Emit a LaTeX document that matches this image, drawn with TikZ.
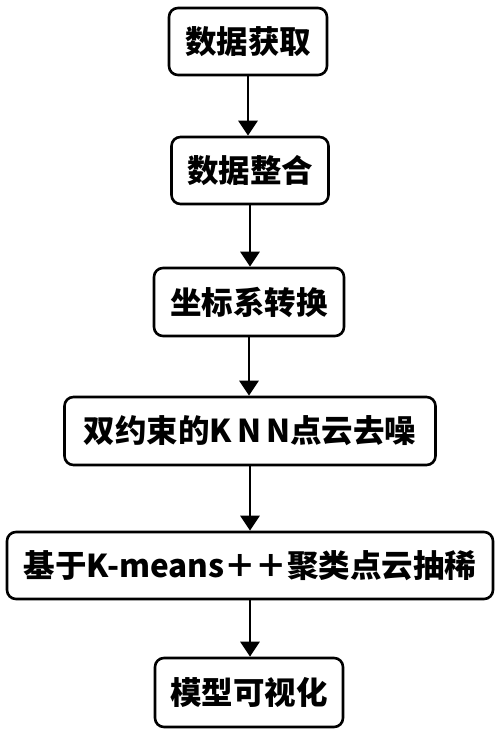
\documentclass[tikz,border=0pt]{standalone}
\usepackage{fontspec}
\setmainfont{Noto Sans CJK SC}
\usetikzlibrary{arrows.meta}
\begin{document}
\begin{tikzpicture}[x=1pt,y=-1pt,
  stepbox/.style={draw=black, line width=2.6pt, rounded corners=9pt, fill=white,
    inner sep=0pt, align=center, font=\fontsize{31.5}{36}\selectfont\bfseries},
  flow/.style={line width=2.8pt, -{Triangle[length=15pt,width=19pt]}}]
\useasboundingbox (0,0) rectangle (500,733);
\node[stepbox, minimum width=158pt, minimum height=67pt] (a) at (248,41.5) {数据获取};
\node[stepbox, minimum width=157pt, minimum height=67pt] (b) at (250,170.5) {数据整合};
\node[stepbox, minimum width=190pt, minimum height=68pt] (c) at (249,302) {坐标系转换};
\node[stepbox, minimum width=371pt, minimum height=68pt] (d) at (250,431) {双约束的K\,N\,N点云去噪};
\node[stepbox, minimum width=486pt, minimum height=67pt] (e) at (250,565.5) {基于K-means＋＋聚类点云抽稀};
\node[stepbox, minimum width=188pt, minimum height=69pt] (f) at (249,692.5) {模型可视化};
\draw[flow] (a.south) -- (a.south |- b.north);
\draw[flow] (b.south) -- (b.south |- c.north);
\draw[flow] (c.south) -- (c.south |- d.north);
\draw[flow] (d.south) -- (d.south |- e.north);
\draw[flow] (e.south) -- (e.south |- f.north);
\end{tikzpicture}
\end{document}
